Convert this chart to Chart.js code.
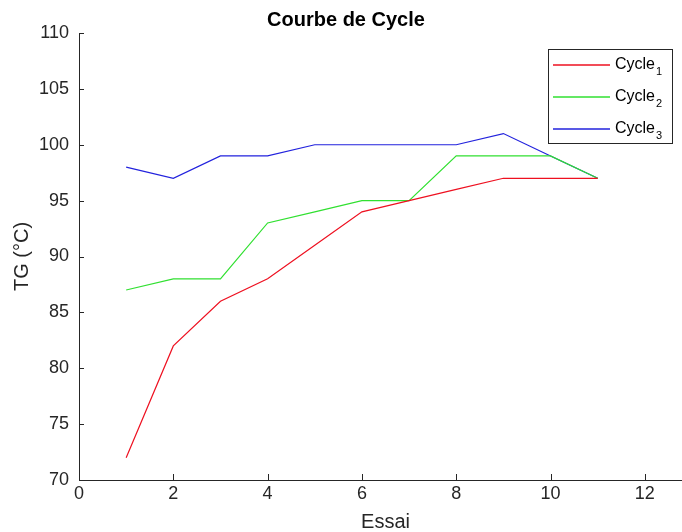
<!DOCTYPE html>
<html>
<head>
<meta charset="utf-8">
<title>Courbe de Cycle</title>
<script src="https://cdn.jsdelivr.net/npm/chart.js@4/dist/chart.umd.min.js"></script>
<style>
    html, body { margin: 0; padding: 0; background: #fff; overflow: hidden; }
    canvas { display: block; }
</style>
</head>
<body>
<canvas id="cycleChart" width="700" height="532"></canvas>
<script>
// --- Données ---
const essais = [1, 2, 3, 4, 5, 6, 7, 8, 9, 10, 11];
const cycle1 = [72, 82, 86, 88, 91, 94, 95, 96, 97, 97, 97];
const cycle2 = [87, 88, 88, 93, 94, 95, 95, 99, 99, 99, 97];
const cycle3 = [98, 97, 99, 99, 100, 100, 100, 100, 101, 99, 97];
const xTicks = [0, 2, 4, 6, 8, 10, 12];
const yTicks = [70, 75, 80, 85, 90, 95, 100, 105, 110];
const seriesNames = ['Cycle', 'Cycle', 'Cycle'];
const seriesSubs = ['1', '2', '3'];
const seriesColors = ['#ee1020', '#30e030', '#2222dd'];

const FONT = "'Liberation Sans', Arial, Helvetica, sans-serif";
const AXIS = '#262626';

const toPoints = vals => vals.map((v, i) => ({ x: essais[i], y: v }));

// ticks vers l'intérieur + légende façon MATLAB
const matlabLook = {
    id: 'matlabLook',
    afterDraw(chart) {
        const { ctx, chartArea: a, scales: { x, y } } = chart;
        ctx.save();
        ctx.strokeStyle = AXIS;
        ctx.lineWidth = 1;
        ctx.beginPath();
        xTicks.forEach(v => {
            const px = Math.round(x.getPixelForValue(v)) + 0.5;
            ctx.moveTo(px, a.bottom);
            ctx.lineTo(px, a.bottom - 6);
        });
        yTicks.forEach(v => {
            const py = Math.round(y.getPixelForValue(v)) + 0.5;
            ctx.moveTo(a.left, py);
            ctx.lineTo(a.left + 5, py);
        });
        ctx.stroke();

        // légende
        const box = { l: 548.5, t: 49.5, r: 672.5, b: 143.5 };
        ctx.fillStyle = '#fff';
        ctx.fillRect(box.l, box.t, box.r - box.l, box.b - box.t);
        ctx.strokeStyle = AXIS;
        ctx.strokeRect(box.l, box.t, box.r - box.l, box.b - box.t);
        seriesNames.forEach((name, i) => {
            const cy = 65 + i * 32;
            ctx.beginPath();
            ctx.strokeStyle = seriesColors[i];
            ctx.lineWidth = 1.6;
            ctx.moveTo(553, cy);
            ctx.lineTo(610, cy);
            ctx.stroke();
            ctx.fillStyle = '#000';
            ctx.textBaseline = 'middle';
            ctx.textAlign = 'left';
            ctx.font = '16px ' + FONT;
            ctx.fillText(name, 615, cy);
            const w = ctx.measureText(name).width;
            ctx.font = '11px ' + FONT;
            ctx.fillText(seriesSubs[i], 615 + w + 1, cy + 7);
        });
        ctx.restore();
    }
};

new Chart(document.getElementById('cycleChart'), {
    type: 'line',
    data: {
        datasets: [
            { label: 'Cycle1', data: toPoints(cycle1), borderColor: seriesColors[0], borderWidth: 1.2 },
            { label: 'Cycle2', data: toPoints(cycle2), borderColor: seriesColors[1], borderWidth: 1.2 },
            { label: 'Cycle3', data: toPoints(cycle3), borderColor: seriesColors[2], borderWidth: 1.2 }
        ]
    },
    options: {
        responsive: false,
        animation: false,
        devicePixelRatio: 1,
        layout: { padding: { top: 0, right: 8, bottom: 0, left: 0 } },
        elements: {
            point: { radius: 0, hoverRadius: 0 },
            line: { tension: 0, fill: false }
        },
        plugins: {
            legend: { display: false },
            tooltip: { enabled: false },
            title: {
                display: true,
                text: 'Courbe de Cycle',
                color: '#000',
                font: { family: FONT, size: 20, weight: 'bold' },
                padding: { top: 8, bottom: 1 }
            }
        },
        scales: {
            x: {
                type: 'linear',
                min: 0,
                max: 13,
                afterBuildTicks: s => { s.ticks = xTicks.map(v => ({ value: v })); },
                afterFit: s => { s.height = 52; },
                ticks: {
                    autoSkip: false,
                    maxRotation: 0,
                    padding: 3,
                    color: AXIS,
                    font: { family: FONT, size: 18 }
                },
                grid: { display: false, drawTicks: false },
                border: { display: true, color: AXIS, width: 1 },
                title: {
                    display: true,
                    text: 'Essai',
                    color: AXIS,
                    font: { family: FONT, size: 20, lineHeight: 1 },
                    padding: { top: 0, bottom: 0 }
                }
            },
            y: {
                min: 70,
                max: 110,
                afterBuildTicks: s => { s.ticks = yTicks.map(v => ({ value: v })); },
                afterFit: s => { s.width = 79; },
                ticks: {
                    padding: 10,
                    color: AXIS,
                    font: { family: FONT, size: 18 }
                },
                grid: { display: false, drawTicks: false },
                border: { display: true, color: AXIS, width: 1 },
                title: {
                    display: true,
                    text: 'TG (°C)',
                    color: AXIS,
                    font: { family: FONT, size: 20 },
                    padding: { top: 10, bottom: 0 }
                }
            }
        }
    },
    plugins: [matlabLook]
});
</script>
</body>
</html>
